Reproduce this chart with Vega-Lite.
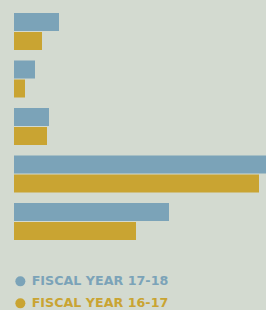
{
  "$schema": "https://vega.github.io/schema/vega-lite/v6.json",
  "width": 252,
  "height": 227,
  "autosize": {"type": "none"},
  "padding": {"left": 14, "top": 13, "right": 0, "bottom": 70},
  "background": "#d3dad0",
  "config": {"view": {"stroke": null}},
  "data": {
    "values": [
      {"cat": "A", "year": "FISCAL YEAR 17-18", "value": 45},
      {"cat": "A", "year": "FISCAL YEAR 16-17", "value": 28},
      {"cat": "B", "year": "FISCAL YEAR 17-18", "value": 21},
      {"cat": "B", "year": "FISCAL YEAR 16-17", "value": 11},
      {"cat": "C", "year": "FISCAL YEAR 17-18", "value": 35},
      {"cat": "C", "year": "FISCAL YEAR 16-17", "value": 33},
      {"cat": "D", "year": "FISCAL YEAR 17-18", "value": 252},
      {"cat": "D", "year": "FISCAL YEAR 16-17", "value": 245},
      {"cat": "E", "year": "FISCAL YEAR 17-18", "value": 155},
      {"cat": "E", "year": "FISCAL YEAR 16-17", "value": 122}
    ]
  },
  "mark": {"type": "bar", "clip": true},
  "encoding": {
    "y": {"field": "cat", "type": "nominal", "axis": null,
          "scale": {"paddingInner": 0.221, "paddingOuter": 0}},
    "yOffset": {"field": "year", "type": "nominal",
                "sort": ["FISCAL YEAR 17-18", "FISCAL YEAR 16-17"],
                "scale": {"paddingInner": 0.0526, "paddingOuter": 0}},
    "x": {"field": "value", "type": "quantitative", "axis": null,
          "scale": {"domain": [0, 252], "nice": false, "zero": true}},
    "color": {
      "field": "year", "type": "nominal",
      "sort": ["FISCAL YEAR 17-18", "FISCAL YEAR 16-17"],
      "scale": {"domain": ["FISCAL YEAR 17-18", "FISCAL YEAR 16-17"], "range": ["#7ba3b8", "#c9a432"]},
      "legend": {
        "title": null,
        "orient": "none",
        "legendX": 0,
        "legendY": 262,
        "direction": "vertical",
        "symbolType": "circle",
        "symbolSize": 100,
        "symbolOpacity": 1,
        "labelFont": "DejaVu Sans",
        "labelFontWeight": "bold",
        "labelFontSize": 12.7,
        "labelOffset": 5,
        "rowPadding": 8,
        "labelLimit": 300,
        "encode": {
          "labels": {"update": {"fill": {"scale": "color", "field": "value"}}}
        }
      }
    }
  }
}
